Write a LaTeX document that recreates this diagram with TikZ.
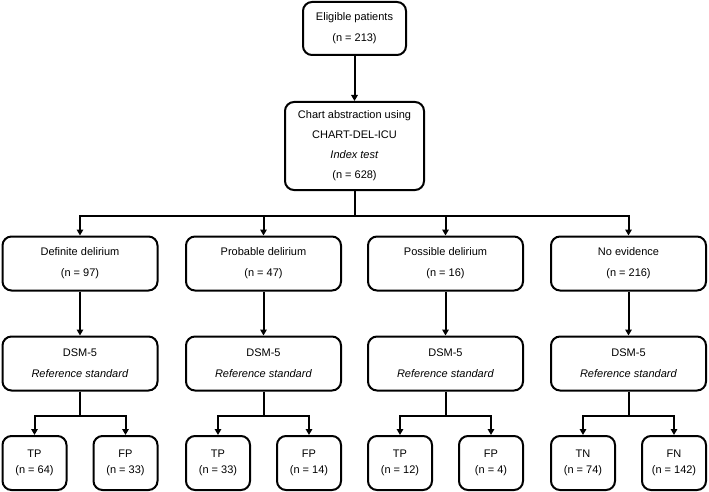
\documentclass[tikz,border=0pt]{standalone}
\usepackage{fontspec}
\setmainfont{Liberation Sans}
\usetikzlibrary{arrows.meta}

\tikzset{
  box/.style={draw, line width=2pt, rounded corners=9pt, align=center, inner sep=0pt,
    font=\fontsize{11}{21}\selectfont},
  topbox/.style={box, minimum width=103pt, minimum height=53pt},
  chartbox/.style={box, minimum width=139pt, minimum height=88pt, font=\fontsize{11}{20}\selectfont},
  rowbox/.style={box, minimum width=155pt, minimum height=54pt},
  leafbox/.style={box, minimum width=64pt, minimum height=54pt, font=\fontsize{11}{16}\selectfont},
  arr/.style={line width=2pt, -{Triangle[length=6pt,width=6.5pt]}},
  ln/.style={line width=2pt}
}

\begin{document}
\begin{tikzpicture}[x=1pt,y=-1pt]
    \useasboundingbox (0,0) rectangle (709,492);

    \node[topbox] (elig) at (354.5,28.5) {Eligible patients\\(n = 213)};
    \node[chartbox] (chart) at (354.5,146) {Chart abstraction using\\CHART-DEL-ICU\\\textit{Index test}\\(n = 628)};
    \coordinate (split) at (354.5,216);

    \node[rowbox] (def) at (80,263.5) {Definite delirium\\(n = 97)};
    \node[rowbox] (prob) at (263.5,263.5) {Probable delirium\\(n = 47)};
    \node[rowbox] (poss) at (445.5,263.5) {Possible delirium\\(n = 16)};
    \node[rowbox] (noev) at (628.5,263.5) {No evidence\\(n = 216)};

    \node[rowbox] (dsma) at (80,363.5) {DSM-5\\\textit{Reference standard}};
    \node[rowbox] (dsmb) at (263.5,363.5) {DSM-5\\\textit{Reference standard}};
    \node[rowbox] (dsmc) at (445.5,363.5) {DSM-5\\\textit{Reference standard}};
    \node[rowbox] (dsmd) at (628.5,363.5) {DSM-5\\\textit{Reference standard}};

    \node[leafbox] (tpa) at (34.5,463) {TP\\(n = 64)};
    \node[leafbox] (fpa) at (125.5,463) {FP\\(n = 33)};
    \node[leafbox] (tpb) at (218,463) {TP\\(n = 33)};
    \node[leafbox] (fpb) at (309,463) {FP\\(n = 14)};
    \node[leafbox] (tpc) at (400,463) {TP\\(n = 12)};
    \node[leafbox] (fpc) at (491,463) {FP\\(n = 4)};
    \node[leafbox] (tnd) at (583,463) {TN\\(n = 74)};
    \node[leafbox] (fnd) at (674,463) {FN\\(n = 142)};

    % top part
    \draw[arr] (elig) -- (chart);
    \draw[ln] (chart) -- (split);
    \draw[arr] (split) -| (def.north);
    \draw[arr] (split) -| (prob.north);
    \draw[arr] (split) -| (poss.north);
    \draw[arr] (split) -| (noev.north);

    % reference standard
    \draw[arr] (def) -- (dsma);
    \draw[arr] (prob) -- (dsmb);
    \draw[arr] (poss) -- (dsmc);
    \draw[arr] (noev) -- (dsmd);

    % outcomes
    \draw[arr] (dsma.south) -- ++(0,24) -| (tpa.north);
    \draw[arr] (dsma.south) -- ++(0,24) -| (fpa.north);
    \draw[arr] (dsmb.south) -- ++(0,24) -| (tpb.north);
    \draw[arr] (dsmb.south) -- ++(0,24) -| (fpb.north);
    \draw[arr] (dsmc.south) -- ++(0,24) -| (tpc.north);
    \draw[arr] (dsmc.south) -- ++(0,24) -| (fpc.north);
    \draw[arr] (dsmd.south) -- ++(0,24) -| (tnd.north);
    \draw[arr] (dsmd.south) -- ++(0,24) -| (fnd.north);
\end{tikzpicture}
\end{document}
